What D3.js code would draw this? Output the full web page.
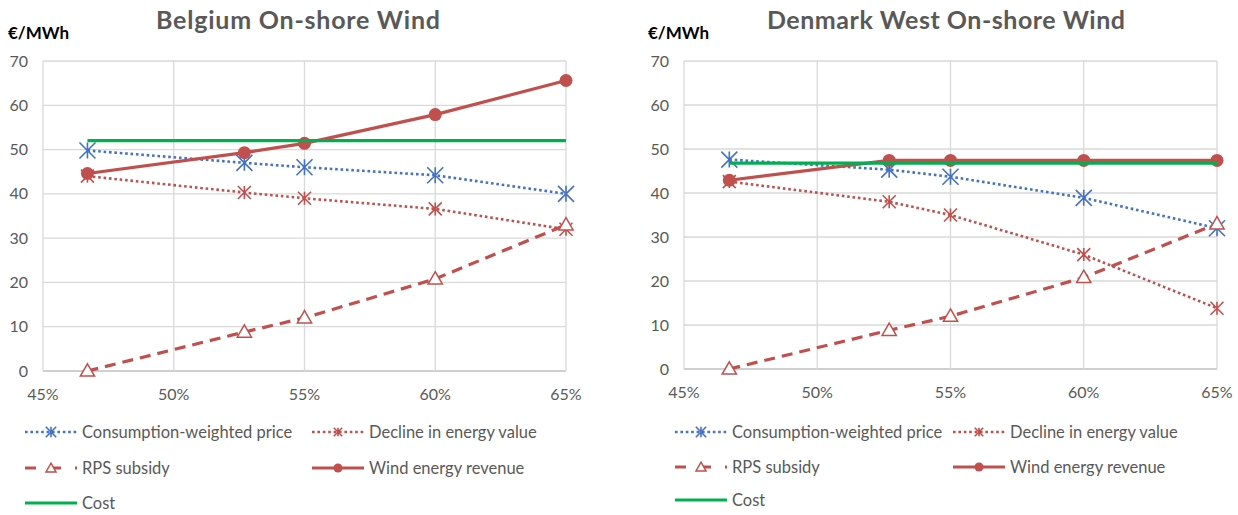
<!DOCTYPE html>
<html>
<head>
<meta charset="utf-8">
<script src="https://cdn.jsdelivr.net/npm/d3@7"></script>
<style>
body{margin:0;background:#fff;}
text{font-family:Lato,"Open Sans",sans-serif;}
</style>
</head>
<body>
<script>
// data
var shares = [46.7, 52.7, 55, 60, 65];
var xTicks = [45, 50, 55, 60, 65];
var yTicks = [0, 10, 20, 30, 40, 50, 60, 70];
var seriesNames = ["Consumption-weighted price", "Decline in energy value", "RPS subsidy", "Wind energy revenue", "Cost"];

var beTitle = "Belgium On-shore Wind";
var bePrice = [49.8, 47.0, 46.0, 44.2, 40.0];
var beDecline = [44.0, 40.3, 39.0, 36.6, 32.0];
var beRps = [0, 8.8, 12.0, 20.8, 33.0];
var beRevenue = [44.6, 49.3, 51.4, 57.9, 65.6];
var beCost = [52, 52, 52, 52, 52];

var dkTitle = "Denmark West On-shore Wind";
var dkPrice = [47.6, 45.3, 43.7, 38.9, 32.0];
var dkDecline = [42.6, 38.0, 35.0, 26.0, 13.8];
var dkRps = [0, 8.8, 12.0, 20.8, 33.0];
var dkRevenue = [42.9, 47.4, 47.4, 47.4, 47.4];
var dkCost = [46.8, 46.8, 46.8, 46.8, 46.8];

var blue = "#4472c4", red = "#c0504d", green = "#00b050", grey = "#595959";

var svg = d3.select("body").append("svg")
    .attr("width", 1238)
    .attr("height", 515);

// asterisk marker: an X plus a vertical bar
function starPath(s){
    var h = s/2;
    return "M"+(-h)+","+(-h)+"L"+h+","+h+"M"+(-h)+","+h+"L"+h+","+(-h)+"M0,"+(-h)+"L0,"+h;
}

var styles = [
    {color: blue, width: 2.6, dash: "2.6,2.8", marker: "star", size: 16},
    {color: red, width: 2.6, dash: "2.6,2.8", marker: "star", size: 13},
    {color: red, width: 3.2, dash: "11,7", marker: "tri", size: 14},
    {color: red, width: 3.2, dash: null, marker: "dot", size: 13},
    {color: green, width: 3.2, dash: null, marker: null, size: 0}
];

function drawMarker(g, st, x, y, scale){
    var s = st.size*scale;
    if (st.marker == "star"){
        g.append("path").attr("d", starPath(s)).attr("transform", "translate("+x+","+y+")")
         .attr("stroke", st.color).attr("stroke-width", 1.6).attr("fill", "none");
    } else if (st.marker == "tri"){
        g.append("path").attr("d", d3.symbol().type(d3.symbolTriangle).size(s*s*0.45)())
         .attr("transform", "translate("+x+","+(y+1)+")")
         .attr("stroke", st.color).attr("stroke-width", 1.5).attr("fill", "#fff");
    } else if (st.marker == "dot"){
        g.append("circle").attr("cx", x).attr("cy", y).attr("r", s/2).attr("fill", st.color);
    }
}

function drawChart(c){
    var x = d3.scaleLinear().domain([45, 65]).range([c.left, c.right]);
    var y = d3.scaleLinear().domain([0, 70]).range([c.bottom, c.top]);
    var g = svg.append("g");

    // grid
    g.selectAll(".hgrid").data(yTicks).enter().append("line")
     .attr("x1", c.left).attr("x2", c.right)
     .attr("y1", d => y(d)).attr("y2", d => y(d))
     .attr("stroke", d => d == 0 ? "#bfbfbf" : "#d9d9d9").attr("stroke-width", 1.3);
    g.selectAll(".vgrid").data(xTicks).enter().append("line")
     .attr("x1", d => x(d)).attr("x2", d => x(d))
     .attr("y1", c.top).attr("y2", c.bottom)
     .attr("stroke", "#d9d9d9").attr("stroke-width", 1.3);

    // tick labels
    g.selectAll(".ylab").data(yTicks).enter().append("text")
     .attr("x", c.left - 15).attr("y", d => y(d) + 5.5)
     .attr("text-anchor", "end").attr("font-size", 16).attr("fill", grey)
     .text(d => d);
    g.selectAll(".xlab").data(xTicks).enter().append("text")
     .attr("x", d => x(d)).attr("y", c.bottom + 29)
     .attr("text-anchor", "middle").attr("font-size", 16).attr("fill", grey)
     .text(d => d + "%");

    // titles
    g.append("text").attr("x", c.titleX).attr("y", 29)
     .attr("font-size", 25).attr("font-weight", "bold").attr("fill", grey)
     .attr("textLength", c.titleW).attr("lengthAdjust", "spacing").text(c.title);
    g.append("text").attr("x", c.unitX).attr("y", 39)
     .attr("font-size", 17).attr("font-weight", "bold").attr("fill", "#000").text("€/MWh");

    // series: each line then its markers, so later series sit on top
    var line = d3.line().x((d, i) => x(shares[i])).y(d => y(d));
    c.series.forEach(function(vals, k){
        var st = styles[k];
        var p = g.append("path").datum(vals).attr("d", line)
         .attr("fill", "none").attr("stroke", st.color).attr("stroke-width", st.width);
        if (st.dash) p.attr("stroke-dasharray", st.dash);
        vals.forEach(function(v, i){ drawMarker(g, st, x(shares[i]), y(v), 1); });
    });

    // legend
    seriesNames.forEach(function(name, k){
        var st = styles[k];
        var col = k % 2, row = Math.floor(k / 2);
        var lx = c.legX[col], ly = c.legY[row];
        var l = g.append("line").attr("x1", lx).attr("x2", lx + 52).attr("y1", ly).attr("y2", ly)
         .attr("stroke", st.color).attr("stroke-width", st.width);
        if (st.dash) l.attr("stroke-dasharray", st.marker == "tri" ? "11,14" : st.dash);
        drawMarker(g, st, lx + 26, ly, k < 2 ? 0.65 : 0.7);
        g.append("text").attr("x", lx + 57).attr("y", ly + 6)
         .attr("font-size", 16.5).attr("fill", grey).text(name);
    });
}

drawChart({title: beTitle, titleX: 156, titleW: 284, unitX: 8, left: 43, right: 566, top: 61, bottom: 371,
    series: [bePrice, beDecline, beRps, beRevenue, beCost],
    legX: [25, 312], legY: [432, 468, 503]});
drawChart({title: dkTitle, titleX: 767, titleW: 358, unitX: 648, left: 684, right: 1217, top: 61, bottom: 369,
    series: [dkPrice, dkDecline, dkRps, dkRevenue, dkCost],
    legX: [675, 953], legY: [432, 467, 500]});
</script>
</body>
</html>
